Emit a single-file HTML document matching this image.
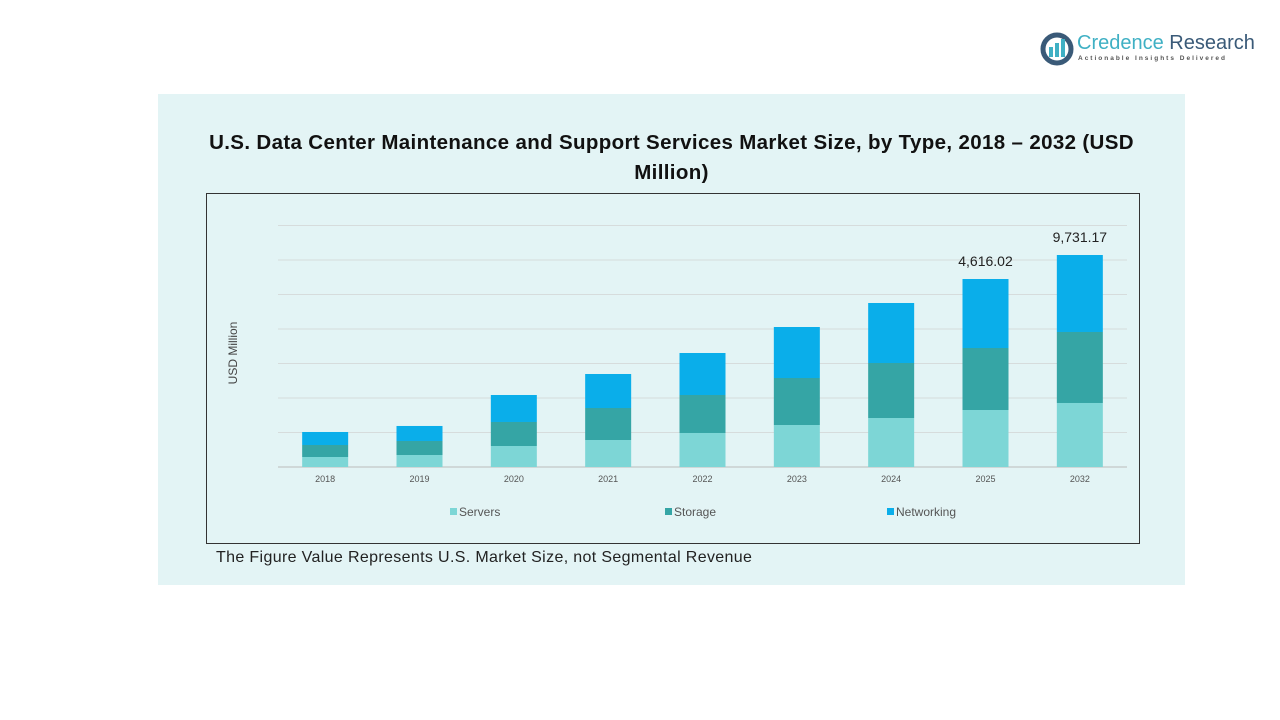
<!DOCTYPE html>
<html><head><meta charset="utf-8"><style>
body{margin:0;width:1280px;height:720px;background:#fff;position:relative;overflow:hidden;font-family:"Liberation Sans",sans-serif}
.abs{position:absolute}
</style></head><body>
<div class="abs" style="left:1040px;top:32px;width:215px;height:36px">
<svg width="34" height="34" class="abs" style="left:0;top:0"><circle cx="17" cy="17" r="14" fill="none" stroke="#3a5a78" stroke-width="5"/><rect x="9" y="15" width="4" height="10" fill="#3fb0c4"/><rect x="15" y="11" width="4" height="14" fill="#3fb0c4"/><rect x="21" y="7" width="4" height="18" fill="#3fb0c4"/></svg>
<div class="abs" style="left:37px;top:0;font-size:20px;color:#3fb0c4;white-space:nowrap">Credence <span style="color:#3a5a78">Research</span></div>
<div class="abs" style="left:38px;top:23px;font-size:6.5px;letter-spacing:2px;color:#555;white-space:nowrap;font-weight:bold">Actionable Insights Delivered</div>
</div>
<div class="abs" style="left:158px;top:94px;width:1027px;height:491px;background:#e3f4f5"></div>
<div class="abs" style="left:196px;top:128px;width:951px;text-align:center;font-size:20.5px;letter-spacing:0.35px;font-weight:bold;color:#111;line-height:30px">U.S. Data Center Maintenance and Support Services Market Size, by Type, 2018 – 2032 (USD Million)</div>
<div class="abs" style="left:206px;top:193px;width:934px;height:351px;border:1px solid #333;box-sizing:border-box"></div>
<div class="abs" style="left:216px;top:549px;font-size:16px;letter-spacing:0.35px;color:#222">The Figure Value Represents U.S. Market Size, not Segmental Revenue</div>
<svg class="abs" style="left:0;top:0" width="1280" height="720" id="chart"></svg>
<script>
const categories=["2018","2019","2020","2021","2022","2023","2024","2025","2032"];
const servers=[459,551,964,1239,1561,1928,2249,2616,2938];
const storage=[551,643,1102,1469,1744,2157,2525,2846,3259];
const networking=[597,689,1239,1561,1928,2341,2754,3167,3534];
const valueLabels=["","","","","","","","4,616.02","9,731.17"];
const seriesNames=["Servers","Storage","Networking"];
const colors=["#7dd6d6","#35a5a5","#0aaeea"];
const ns="http://www.w3.org/2000/svg";
const svg=document.getElementById('chart');
const x0=278,x1=1127,baseY=467,pxPerUnit=212/9731;
const yS=v=>baseY-v*pxPerUnit;
const band=(x1-x0)/categories.length;
const xS=i=>x0+band*i+band/2;
function mk(t,a){const e=document.createElementNS(ns,t);for(const k in a)e.setAttribute(k,a[k]);svg.appendChild(e);return e;}
for(let g=0;g<=7;g++){const y=baseY-g*34.5;const l=mk('line',{x1:x0,x2:x1,y1:y,y2:y,stroke:g==0?'#bbb':'#d6dcdc','stroke-width':1});

}
const series=[servers,storage,networking];
categories.forEach((c,i)=>{let acc=0;
series.forEach((s,k)=>{const y0=yS(acc),y1=yS(acc+s[i]);acc+=s[i];
const r=mk('rect',{x:xS(i)-23,y:y1,width:46,height:y0-y1,fill:colors[k]});

});
const t=mk('text',{x:xS(i),y:baseY+15,'font-size':9,'text-anchor':'middle',fill:'#555','font-family':'Liberation Sans'});t.textContent=c;


if(valueLabels[i]){const v=mk('text',{x:xS(i),y:yS(acc)-13,'font-size':14,'text-anchor':'middle',fill:'#222','font-family':'Liberation Sans'});v.textContent=valueLabels[i];

}
});
const yt=mk('text',{x:237,y:353,'font-size':12,'text-anchor':'middle',fill:'#444',transform:'rotate(-90 237 353)','font-family':'Liberation Sans'});yt.textContent="USD Million";


const lx=[450,665,887];
seriesNames.forEach((n,k)=>{const r=mk('rect',{x:lx[k],y:508,width:7,height:7,fill:colors[k]});


const t=mk('text',{x:lx[k]+9,y:516,'font-size':12,fill:'#555','font-family':'Liberation Sans'});t.textContent=n;

});
</script>
</body></html>
